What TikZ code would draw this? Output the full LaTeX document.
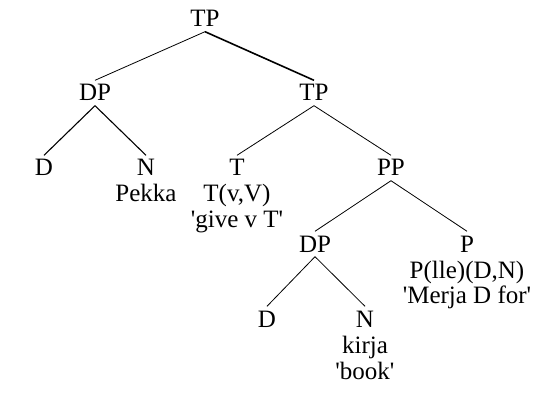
\documentclass[tikz,border=0pt]{standalone}
\usepackage{fontspec}
\setmainfont{Liberation Serif}
\newcommand{\q}{\textquotesingle}

\begin{document}
\begin{tikzpicture}[
        x=1pt, y=-1pt,
        cat/.style={anchor=base, inner xsep=0pt, inner ysep=4.5pt, text height=16pt, text depth=0pt, font=\fontsize{25}{26}\selectfont},
        lex/.style={anchor=base, align=center, inner sep=0pt, font=\fontsize{25}{26}\selectfont},
        branch/.style={line width=0.8pt},
    ]
    \useasboundingbox (0,0) rectangle (542,420);

    % Row 1: root
    \node[cat] (tp) at (205,27) {TP};

    % Row 2: subject and TP
    \node[cat] (dpa) at (95,101) {DP};
    \node[cat] (tpb) at (314,101) {TP};

    % Row 3: D, N, T and PP (base anchor = last line)
    \node[cat] (da) at (44,176) {D};
    \node[cat] (na) at (146,176) {N};
    \node[cat] (t) at (237,176) {T};
    \node[cat] (pp) at (391,176) {PP};
    \node[lex] (pekka) at (146,202) {Pekka};
    \node[lex] (give) at (237,228) {T(v,V) \\ \q give v T\q};

    % Row 4: DP and P
    \node[cat] (dpb) at (315,252) {DP};
    \node[cat] (p) at (467,252) {P};
    \node[lex] (lle) at (467,304) {P(lle)(D,N) \\ \q Merja D for\q};

    % Row 5: D and N of the object
    \node[cat] (db) at (267,327) {D};
    \node[cat] (nb) at (365,327) {N};
    \node[lex] (kirja) at (365,379) {kirja \\ \q book\q};

    % Branches
    \draw[branch] (tp.south) -- (dpa.north);
    \draw[line width=1.6pt] (tp.south) -- (tpb.north);
    \foreach \a/\b in {dpa/da, dpa/na} \draw[line width=1.1pt] (\a.south) -- (\b.north);
    \foreach \a/\b in {tpb/t, tpb/pp, pp/dpb, pp/p, dpb/db, dpb/nb} \draw[branch] (\a.south) -- (\b.north);
\end{tikzpicture}
\end{document}
